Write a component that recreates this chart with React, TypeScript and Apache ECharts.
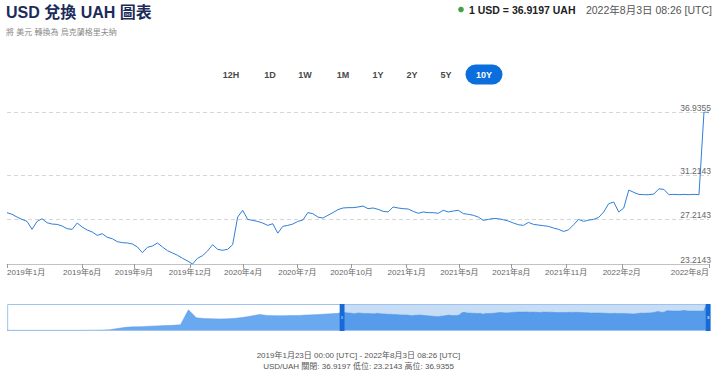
import React, { useEffect, useRef } from 'react';
import * as echarts from 'echarts';

const FONT = '"Liberation Sans", Arial, "Noto Sans CJK TC", sans-serif';

// Navigator history before the displayed window (one value every HISTORY_STEP samples)
const HISTORY_START = -127;
const HISTORY_STEP = 3;
const HISTORY_RATES = [
  7.99, 7.99, 7.99, 7.99, 7.99, 7.99, 7.99, 7.99, 7.99, 8.0,
  8.05, 8.1, 8.2, 8.6, 9.9, 11.3, 11.8, 12.0, 12.5, 12.9,
  13.2, 13.5, 14.3, 30.8, 22.0, 21.0, 20.8, 20.6, 20.8, 21.4,
  22.4, 24.0, 25.6, 24.6, 24.3, 24.2, 24.4, 24.6, 25.0, 25.4,
  25.9, 26.3, 26.9,
];

// Displayed window samples (2019-01-23 .. 2022-08-03)
const RATES = [
  27.85, 27.7, 27.45, 27.24, 27.06, 26.34, 27.06, 27.3, 26.94, 26.82,
  26.79, 26.64, 26.4, 26.34, 26.91, 26.55, 26.28, 26.1, 25.8, 25.95,
  25.62, 25.5, 25.23, 25.14, 25.11, 25.02, 24.75, 24.24, 24.72, 24.84,
  25.11, 24.75, 24.42, 24.21, 24.0, 23.73, 23.49, 23.2143, 23.73, 23.97,
  24.39, 24.96, 24.54, 24.45, 24.54, 24.96, 27.45, 28.06, 27.24, 27.15,
  27.06, 26.91, 26.7, 26.85, 26.0, 26.61, 26.7, 26.82, 27.06, 27.18,
  27.85, 27.76, 27.45, 27.36, 27.61, 27.85, 28.12, 28.27, 28.3, 28.3,
  28.36, 28.45, 28.21, 28.27, 28.15, 27.97, 27.91, 28.36, 28.27, 28.21,
  28.18, 27.97, 27.79, 27.91, 27.85, 27.85, 27.79, 28.06, 27.91, 28.0,
  28.06, 27.76, 27.7, 27.61, 27.45, 27.15, 27.24, 27.33, 27.3, 27.21,
  27.09, 26.91, 26.76, 26.7, 26.97, 26.79, 26.73, 26.67, 26.61, 26.46,
  26.34, 26.15, 26.3, 26.76, 27.24, 27.06, 27.18, 27.24, 27.42, 27.91,
  28.66, 28.81, 27.91, 28.27, 29.89, 29.68, 29.5, 29.47, 29.47, 29.53,
  30.0, 29.95, 29.47, 29.5, 29.47, 29.5, 29.47, 29.5, 29.47, 36.9355,
  36.9197,
];

const TICK_POSITIONS = [0, 15, 25.3, 36.5, 47.1, 57.9, 68.7, 79.7, 90.2, 100.6, 111.5, 122.6, 140];
const TICK_LABELS = [
  '2019年1月', '2019年6月', '2019年9月', '2019年12月', '2020年4月', '2020年7月',
  '2020年10月', '2021年1月', '2021年5月', '2021年8月', '2021年11月', '2022年2月', '2022年8月',
];
const Y_TICKS = [23.2143, 27.2143, 31.2143, 36.9355];
const RANGE_BUTTONS = ['12H', '1D', '1W', '1M', '1Y', '2Y', '5Y', '10Y'];
const ACTIVE_BUTTON = '10Y';

function buildOption() {
  const history = HISTORY_RATES.map((v, k) => [HISTORY_START + k * HISTORY_STEP, v]);
  const main = RATES.map((v, i) => [i, v]);
  const full = history.concat(main);
  const last = RATES[RATES.length - 1];
  const low = Math.min(...RATES);
  const high = Math.max(...RATES);
  const lastPos = RATES.length - 1;

  const btnX = [231, 270, 305, 343, 378, 412, 446, 484];
  const buttons: any[] = [];
  RANGE_BUTTONS.forEach((b, k) => {
    const active = b === ACTIVE_BUTTON;
    if (active) {
      buttons.push({
        type: 'rect',
        shape: { x: btnX[k] - 18.5, y: 64.5, width: 37, height: 20, r: 10 },
        style: { fill: '#0a6fdc' },
      });
    }
    buttons.push({
      type: 'text',
      x: btnX[k],
      y: 75,
      style: {
        text: b,
        font: `bold 9px ${FONT}`,
        fill: active ? '#ffffff' : '#4a4a4a',
        textAlign: 'center',
        textVerticalAlign: 'middle',
        align: 'center',
        verticalAlign: 'middle',
      },
    });
  });

  const txt = (x: number, y: number, text: string, font: string, fill: string, align = 'left', va = 'middle') => ({
    type: 'text',
    x,
    y,
    style: { text, font, fill, textAlign: align, textVerticalAlign: va, align, verticalAlign: va },
  });

  return {
    animation: false,
    backgroundColor: '#ffffff',
    textStyle: { fontFamily: FONT },
    grid: [
      { left: 7, right: 11, top: 112, bottom: 113 },
      { left: 7, right: 11, top: 304, height: 27 },
    ],
    xAxis: [
      {
        type: 'value',
        gridIndex: 0,
        min: HISTORY_START,
        max: lastPos,
        axisLine: { show: true, lineStyle: { color: '#c2c2c2', width: 1 } },
        axisTick: { show: true, length: 4, lineStyle: { color: '#9a9a9a' }, customValues: TICK_POSITIONS },
        axisLabel: {
          customValues: TICK_POSITIONS,
          formatter: (v: number) => {
            const idx = TICK_POSITIONS.findIndex((p) => Math.abs(p - v) < 1e-6);
            return idx >= 0 ? TICK_LABELS[idx] : '';
          },
          fontSize: 8,
          color: '#666',
          margin: 4,
          alignMinLabel: 'left',
          alignMaxLabel: 'right',
          hideOverlap: false,
        },
        splitLine: { show: false },
      },
      { type: 'value', gridIndex: 1, min: HISTORY_START, max: lastPos, show: false },
    ],
    yAxis: [
      {
        type: 'value',
        gridIndex: 0,
        position: 'right',
        min: Y_TICKS[0],
        max: Y_TICKS[Y_TICKS.length - 1],
        axisLine: { show: false },
        axisTick: { show: false, customValues: Y_TICKS },
        axisLabel: {
          inside: true,
          customValues: Y_TICKS,
          formatter: (v: number) => v.toFixed(4),
          fontSize: 8.5,
          color: '#666',
          verticalAlign: 'bottom',
          margin: -2,
        },
        splitLine: { show: true, lineStyle: { color: '#d6d6d6', width: 1, type: [4, 3] } },
      },
      { type: 'value', gridIndex: 1, min: 7.2, max: 37.3, show: false },
    ],
    dataZoom: [
      {
        type: 'slider',
        xAxisIndex: 0,
        filterMode: 'filter',
        startValue: 0,
        endValue: lastPos,
        left: 7,
        right: 11,
        top: 304,
        height: 27,
        showDataShadow: false,
        showDetail: false,
        brushSelect: false,
        backgroundColor: 'rgba(0,0,0,0)',
        borderColor: '#9fc3ee',
        borderRadius: 0,
        fillerColor: 'rgba(30,120,220,0.25)',
        handleIcon: 'path://M0,0H18V100H0Z M5,44V56H13V44Z',
        handleSize: '100%',
        handleStyle: { color: '#1769d8', borderColor: '#1769d8', borderWidth: 0 },
        moveHandleSize: 0,
        moveHandleStyle: { opacity: 0 },
      },
    ],
    series: [
      {
        type: 'line',
        xAxisIndex: 0,
        yAxisIndex: 0,
        data: full,
        showSymbol: false,
        symbol: 'none',
        lineStyle: { color: '#2f7ed8', width: 1 },
        itemStyle: { color: '#2f7ed8' },
      },
      {
        type: 'line',
        xAxisIndex: 1,
        yAxisIndex: 1,
        data: full,
        showSymbol: false,
        symbol: 'none',
        silent: true,
        lineStyle: { width: 0.5, color: '#5e9fe8' },
        areaStyle: { color: '#6aa9ef', opacity: 1 },
      },
    ],
    graphic: [
      txt(6, 4, 'USD 兌換 UAH 圖表', `bold 16px ${FONT}`, '#1c2b5a', 'left', 'top'),
      txt(6, 32.5, '將 美元 轉換為 烏克蘭格里夫納', `8px ${FONT}`, '#8a8a8a'),
      { type: 'circle', shape: { cx: 461, cy: 9.5, r: 2.8 }, style: { fill: '#43a047' } },
      txt(469, 9.5, `1 USD = ${last} UAH`, `bold 10.5px ${FONT}`, '#222222'),
      txt(712, 9.5, '2022年8月3日 08:26 [UTC]', `10.5px ${FONT}`, '#555555', 'right'),
      ...buttons,
      txt(358.5, 355, '2019年1月23日 00:00 [UTC] - 2022年8月3日 08:26 [UTC]', `8px ${FONT}`, '#555555', 'center'),
      txt(358.5, 366.5, `USD/UAH 關閉: ${last} 低位: ${low} 高位: ${high}`, `8px ${FONT}`, '#555555', 'center'),
    ],
  };
}

export default function App() {
  const ref = useRef<HTMLDivElement>(null);
  useEffect(() => {
    if (!ref.current) return;
    const chart = echarts.init(ref.current, undefined, { renderer: 'svg' });
    chart.setOption(buildOption() as any);
    return () => chart.dispose();
  }, []);
  return (
    <div
      ref={ref}
      style={{ position: 'fixed', left: 0, top: 0, width: 720, height: 377, background: '#fff' }}
    />
  );
}
